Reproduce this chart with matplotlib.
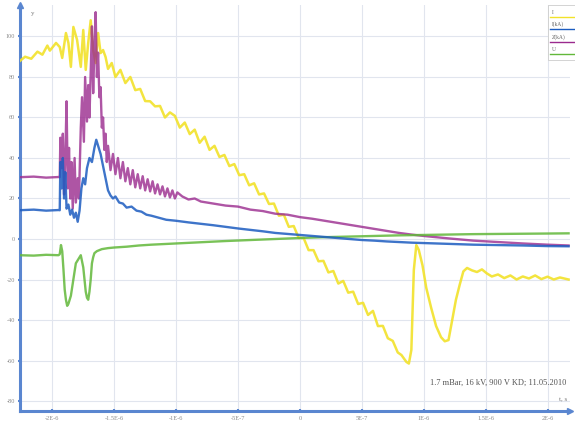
import matplotlib
matplotlib.use("Agg")
import matplotlib.pyplot as plt
from matplotlib.lines import Line2D
from matplotlib.patches import Rectangle

# ---- data (time in microseconds) ----
t_yellow = [-2.27, -2.22, -2.17, -2.12, -2.08, -2.04, -2.02, -1.97, -1.94, -1.92, -1.89, -1.87, -1.85,
            -1.83, -1.80, -1.77, -1.75, -1.73, -1.71, -1.69, -1.67, -1.65, -1.63, -1.61, -1.59, -1.57,
            -1.55, -1.52, -1.49, -1.45, -1.41, -1.37, -1.33, -1.29, -1.25, -1.21, -1.17, -1.13, -1.09,
            -1.05, -1.01, -0.97, -0.93, -0.89, -0.85, -0.81, -0.77, -0.73, -0.69, -0.65, -0.61, -0.57,
            -0.53, -0.49, -0.45, -0.41, -0.37, -0.33, -0.29, -0.25, -0.21, -0.17, -0.13, -0.09, -0.05,
            -0.01, 0.03, 0.07, 0.11, 0.15, 0.19, 0.23, 0.27, 0.31, 0.35, 0.39, 0.43, 0.47, 0.51, 0.55,
            0.59, 0.63, 0.67, 0.71, 0.75, 0.79, 0.82, 0.84, 0.86, 0.88, 0.90, 0.92, 0.94, 0.96, 0.99,
            1.02, 1.06, 1.10, 1.14, 1.17, 1.20, 1.23, 1.26, 1.29, 1.32, 1.35, 1.39, 1.43, 1.47, 1.51,
            1.55, 1.60, 1.65, 1.70, 1.75, 1.80, 1.85, 1.90, 1.95, 2.00, 2.05, 2.10, 2.17]
v_yellow = [87.5, 90.0, 89.0, 92.5, 91.0, 95.5, 93.0, 96.8, 94.8, 89.4, 101.7, 96.8, 85.0, 104.7,
            98.3, 85.0, 103.2, 83.5, 96.8, 108.0, 93.3, 86.9, 101.7, 91.8, 93.3, 89.9, 84.0, 86.9,
            80.0, 83.5, 77.0, 80.0, 73.5, 74.1, 68.1, 68.0, 65.5, 65.7, 60.0, 62.5, 60.8, 55.0, 57.5,
            51.8, 54.0, 47.5, 50.5, 44.0, 46.0, 40.5, 41.5, 36.0, 37.0, 31.5, 32.0, 26.5, 27.5, 22.0,
            22.5, 17.3, 17.5, 11.5, 12.0, 6.0, 6.4, 0.5, 0.5, -5.5, -5.5, -11.0, -10.8, -16.5, -15.8,
            -22.0, -20.7, -26.5, -26.0, -32.1, -31.5, -37.5, -35.5, -43.0, -42.9, -49.0, -50.3, -56.0,
            -57.3, -59.0, -60.7, -61.5, -54.8, -15.3, -3.0, -5.4, -13.0, -24.0, -34.0, -43.0, -48.5,
            -50.5, -49.9, -40.0, -30.0, -22.7, -16.0, -14.3, -15.5, -16.3, -15.0, -17.0, -18.5, -17.5,
            -19.3, -18.0, -20.0, -18.5, -19.5, -18.0, -19.8, -18.6, -20.0, -19.0, -20.0]

t_magenta = [-2.27, -2.15, -2.05, -1.95, -1.94, -1.935, -1.925, -1.915, -1.905, -1.895, -1.885,
             -1.875, -1.865, -1.855, -1.845, -1.835, -1.82, -1.81, -1.795, -1.785, -1.77, -1.76,
             -1.745, -1.735, -1.72, -1.71, -1.70, -1.69, -1.68, -1.67, -1.66, -1.65, -1.64, -1.63,
             -1.62, -1.61, -1.60, -1.59, -1.58, -1.57, -1.56, -1.55, -1.53, -1.51, -1.49, -1.47,
             -1.45, -1.43, -1.41, -1.39, -1.37, -1.35, -1.33, -1.31, -1.29, -1.27, -1.25, -1.23,
             -1.21, -1.19, -1.17, -1.15, -1.13, -1.11, -1.09, -1.07, -1.05, -1.03, -1.01, -0.99,
             -0.95, -0.90, -0.85, -0.80, -0.70, -0.60, -0.50, -0.40, -0.30, -0.20, -0.10, 0.0,
             0.10, 0.20, 0.30, 0.40, 0.50, 0.60, 0.70, 0.80, 0.90, 1.00, 1.20, 1.40, 1.60, 1.80,
             2.00, 2.17]
v_magenta = [30.5, 30.8, 30.3, 30.6, 30.5, 50.0, 35.0, 52.0, 22.0, 40.0, 68.0, 25.0, 45.0, 20.0,
             38.0, 15.0, 40.0, 18.0, 30.0, 20.0, 55.0, 70.0, 48.0, 80.0, 58.0, 76.0, 60.0, 82.0,
             105.0, 72.0, 95.0, 112.0, 80.0, 92.0, 70.0, 75.0, 55.0, 60.0, 44.0, 52.0, 38.0, 46.0,
             34.0, 42.0, 32.0, 40.0, 30.0, 38.0, 28.5, 35.0, 27.0, 34.0, 25.5, 32.0, 25.0, 31.0,
             24.0, 29.5, 23.5, 28.5, 22.5, 27.0, 22.0, 26.0, 21.0, 25.0, 20.5, 24.0, 20.0, 23.0,
             21.0, 19.5, 20.0, 18.5, 17.5, 16.5, 16.0, 14.5, 13.8, 12.5, 12.0, 10.8, 10.0, 9.0,
             8.0, 7.0, 6.0, 5.0, 4.0, 3.0, 2.2, 1.5, 0.3, -0.8, -1.5, -2.2, -2.8, -3.2]

t_blue = [-2.27, -2.15, -2.05, -1.95, -1.94, -1.935, -1.925, -1.915, -1.905, -1.895, -1.885,
          -1.87, -1.855, -1.84, -1.825, -1.81, -1.795, -1.78, -1.765, -1.75, -1.735, -1.72, -1.70,
          -1.68, -1.66, -1.645, -1.63, -1.61, -1.59, -1.57, -1.55, -1.53, -1.51, -1.49, -1.46,
          -1.43, -1.40, -1.36, -1.32, -1.28, -1.24, -1.20, -1.14, -1.08, -1.00, -0.90, -0.80,
          -0.70, -0.60, -0.50, -0.40, -0.30, -0.20, -0.10, 0.0, 0.10, 0.20, 0.30, 0.40, 0.50,
          0.60, 0.70, 0.80, 0.90, 1.00, 1.20, 1.40, 1.60, 1.80, 2.00, 2.17]
v_blue = [14.2, 14.5, 14.0, 14.3, 14.2, 38.0, 25.0, 40.0, 20.0, 33.0, 15.0, 17.0, 12.0, 14.5,
          10.5, 13.0, 8.5, 14.0, 25.0, 30.0, 27.0, 35.0, 40.0, 38.0, 45.0, 49.0, 46.0, 42.0, 36.0,
          30.0, 24.0, 21.5, 20.0, 21.0, 18.0, 17.5, 15.5, 16.0, 14.0, 13.5, 12.0, 11.5, 10.5, 9.5,
          9.0, 8.2, 7.5, 6.8, 6.0, 5.2, 4.5, 3.8, 3.0, 2.5, 2.0, 1.5, 1.0, 0.5, 0.0, -0.5, -0.8,
          -1.2, -1.5, -1.8, -2.0, -2.4, -2.8, -3.0, -3.2, -3.5, -3.6]

t_green = [-2.27, -2.15, -2.05, -1.95, -1.94, -1.93, -1.92, -1.91, -1.90, -1.89, -1.88, -1.87,
           -1.85, -1.83, -1.81, -1.79, -1.77, -1.76, -1.75, -1.74, -1.73, -1.72, -1.71, -1.70,
           -1.69, -1.68, -1.67, -1.66, -1.64, -1.62, -1.60, -1.55, -1.50, -1.40, -1.30, -1.20,
           -1.00, -0.80, -0.60, -0.40, -0.20, 0.0, 0.20, 0.40, 0.60, 0.80, 1.00, 1.20, 1.40, 1.60,
           1.80, 2.00, 2.17]
v_green = [-8.0, -8.2, -7.8, -8.0, -7.5, -3.0, -6.0, -15.0, -25.0, -30.0, -33.0, -32.0, -28.0,
           -20.0, -12.0, -10.0, -8.0, -11.0, -14.0, -20.0, -26.0, -29.0, -30.0, -26.0, -20.0,
           -12.0, -9.0, -7.0, -6.0, -5.5, -5.0, -4.5, -4.2, -3.8, -3.2, -2.8, -2.2, -1.6, -1.0,
           -0.5, 0.0, 0.5, 0.9, 1.2, 1.5, 1.8, 2.0, 2.2, 2.4, 2.5, 2.6, 2.7, 2.8]

x_ticks = [-2.0, -1.5, -1.0, -0.5, 0.0, 0.5, 1.0, 1.5, 2.0]
x_tick_labels = ["-2E-6", "-1.5E-6", "-1E-6", "-5E-7", "0", "5E-7", "1E-6", "1.5E-6", "2E-6"]
y_ticks = [100, 80, 60, 40, 20, 0, -20, -40, -60, -80]
y_tick_labels = ["100", "80", "60", "40", "20", "0", "-20", "-40", "-60", "-80"]
legend_labels = ["I", "I(kA)", "Z(kA)", "U"]
note = "1.7 mBar, 16 kV, 900 V KD; 11.05.2010"

# ---- figure ----
fig = plt.figure(figsize=(5.75, 4.23), dpi=100)
ax = fig.add_axes([0.035, 0.028, 0.956, 0.96])
ax.set_xlim(-2.26, 2.18)
ax.set_ylim(-85, 115.5)

c_yellow = "#f2e22a"
c_magenta = "#9a2a8e"
c_blue = "#1c5cc0"
c_green = "#62b83a"
axis_blue = "#5a86d0"

ax.plot(t_yellow, v_yellow, color=c_yellow, lw=1.8, alpha=0.9, zorder=3)
ax.plot(t_magenta, v_magenta, color=c_magenta, lw=1.7, alpha=0.8, zorder=4)
ax.plot(t_blue, v_blue, color=c_blue, lw=1.7, alpha=0.85, zorder=5)
ax.plot(t_green, v_green, color=c_green, lw=1.7, alpha=0.85, zorder=4)

ax.set_xticks(x_ticks)
ax.set_xticklabels(x_tick_labels)
ax.set_yticks(y_ticks)
ax.set_yticklabels(y_tick_labels)
ax.grid(True, color="#e1e5ee", lw=0.8, zorder=0)
ax.tick_params(axis="both", labelsize=4.5, labelcolor="#8a8a8a", color=axis_blue,
               length=3, width=1.5, direction="inout", pad=2)
for lab in ax.get_xticklabels() + ax.get_yticklabels():
    lab.set_fontfamily("Liberation Serif")

for s in ["top", "right"]:
    ax.spines[s].set_visible(False)
for s in ["left", "bottom"]:
    ax.spines[s].set_color(axis_blue)
    ax.spines[s].set_linewidth(2.2)

# arrows at axis ends
ax.plot([0], [1], marker="^", color=axis_blue, markersize=4, transform=ax.transAxes, clip_on=False)
ax.plot([1], [0], marker=">", color=axis_blue, markersize=4, transform=ax.transAxes, clip_on=False)
ax.text(0.02, 0.985, "y", transform=ax.transAxes, fontsize=5, color="#777777",
        family="Liberation Serif", va="top")
ax.text(0.995, 0.025, "t, s", transform=ax.transAxes, fontsize=5, color="#777777",
        family="Liberation Serif", ha="right")

ax.text(0.87, 0.07, note, transform=ax.transAxes, fontsize=6, color="#555555",
        family="Liberation Serif", ha="center", va="center")

# legend box (top right)
fig.patches.append(Rectangle((548 / 575, 1 - 60 / 423), 30 / 575, 55 / 423,
                             transform=fig.transFigure, fill=True, facecolor="white",
                             edgecolor="#cccccc", lw=0.6, zorder=10))
leg_colors = [c_yellow, c_blue, c_magenta, c_green]
for i, (lab, col) in enumerate(zip(legend_labels, leg_colors)):
    ytxt = 1 - (12 + i * 12.5) / 423
    fig.text(552 / 575, ytxt, lab, fontsize=4, color="#666666", family="Liberation Serif",
             va="center", zorder=11)
    fig.add_artist(Line2D([550 / 575, 575 / 575], [ytxt - 5 / 423] * 2,
                          transform=fig.transFigure, color=col, lw=1.0, zorder=11))

fig.savefig("out.png", dpi=100, facecolor="white")
